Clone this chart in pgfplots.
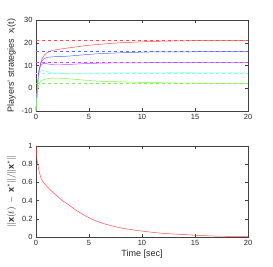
\documentclass[border=0pt]{standalone}
\usepackage{pgfplots}
\pgfplotsset{compat=1.18}
\usepackage{fontspec}
\setmainfont{Liberation Sans}
\setsansfont{Liberation Sans}
\definecolor{colR}{rgb}{1,0.3,0.3}
\definecolor{colB}{rgb}{0.35,0.4,1}
\definecolor{colM}{rgb}{0.75,0.3,1}
\definecolor{colC}{rgb}{0.55,1,0.9}
\definecolor{colG}{rgb}{0.5,0.95,0.3}
\pgfplotsset{
  mystyle/.style={
    scale only axis, width=212pt, height=91pt,
    xmin=0, xmax=20, xtick={0,5,10,15,20},
    tick align=inside, tick pos=both,
    axis line style={black!75}, tick style={black!75},
    major tick length=3pt,
    tick label style={font=\fontsize{7.5}{8}\selectfont, text=black!85},
    label style={font=\fontsize{9}{10}\selectfont, text=black!85},
    /pgf/number format/assume math mode=true,
    every axis plot/.append style={line width=0.5pt},
  }
}
\begin{document}
\begin{tikzpicture}[x=1pt,y=1pt]
\path (0,0) rectangle (273,267);
\begin{axis}[mystyle, at={(36pt,156pt)}, anchor=south west,
  ymin=-10, ymax=30, ytick={-10,0,10,20,30},
  ylabel={Players' strategies\ \ x\textsubscript{i}(t)}, ylabel style={yshift=-1pt}]
\addplot[colR, dashed] coordinates {(0,21.1) (20,21.1)};
\addplot[colB, dashed] coordinates {(0,16.1) (20,16.1)};
\addplot[colM, dashed] coordinates {(0,11.4) (20,11.4)};
\addplot[colC, dashed] coordinates {(0,6.8) (20,6.8)};
\addplot[colG, dashed] coordinates {(0,2.2) (20,2.2)};
\addplot[colR, smooth] coordinates {(0,-10) (0.1,-2) (0.2,4) (0.3,8) (0.5,12) (0.7,14) (1,15.5) (1.5,16.5) (2,17) (3,17.7) (4,18.3) (5,18.9) (6,19.3) (7,19.7) (8,20) (10,20.4) (12,20.7) (15,20.9) (20,21)};
\addplot[colB, smooth] coordinates {(0,-10) (0.1,-2) (0.2,4) (0.3,8) (0.5,11.5) (0.7,12.8) (1,13.5) (1.5,13.8) (2,13.9) (3,14.1) (4,14.5) (5,14.9) (6,15.2) (8,15.6) (10,15.85) (12,16) (20,16.1)};
\addplot[colM, smooth] coordinates {(0,-10) (0.1,-2) (0.2,4) (0.3,8) (0.5,10.3) (0.7,10.9) (1,10.8) (1.5,10.4) (2,10.3) (3,10.4) (4,10.7) (5,10.9) (7,11.1) (10,11.2) (20,11.3)};
\addplot[colC, smooth] coordinates {(0,-10) (0.1,-2) (0.2,3) (0.3,6) (0.5,7.8) (0.7,7.8) (1,7.4) (1.5,6.9) (2,6.6) (3,6.5) (5,6.6) (10,6.8) (20,6.8)};
\addplot[colG, smooth] coordinates {(0,-10) (0.1,-4) (0.2,0) (0.3,2) (0.5,3.3) (0.7,3.8) (1,4.1) (1.5,4.4) (2,4.5) (3,4.2) (4,3.8) (5,3.4) (6,3.1) (8,2.8) (10,2.6) (12,2.4) (15,2.2) (20,2.1)};
\end{axis}
\begin{axis}[mystyle, at={(36pt,30pt)}, anchor=south west,
  ymin=0, ymax=1, ytick={0,0.2,0.4,0.6,0.8,1},
  xlabel={Time [sec]}, xlabel style={yshift=3pt},
  ylabel={$\|\mathbf{x}(t)\,-\,\mathbf{x}^*\|/\|\mathbf{x}^*\|$}, ylabel style={yshift=-1pt}]
\addplot[colR, smooth] coordinates {(0,1) (0.1,0.85) (0.3,0.72) (0.5,0.64) (0.7,0.6) (1,0.56) (1.5,0.5) (2,0.45) (2.5,0.4) (3,0.36) (3.7,0.3) (4.4,0.25) (5.2,0.2) (6.3,0.15) (8,0.1) (10,0.065) (12,0.04) (15,0.02) (17,0.01) (20,0.005)};
\end{axis}
\end{tikzpicture}
\end{document}
